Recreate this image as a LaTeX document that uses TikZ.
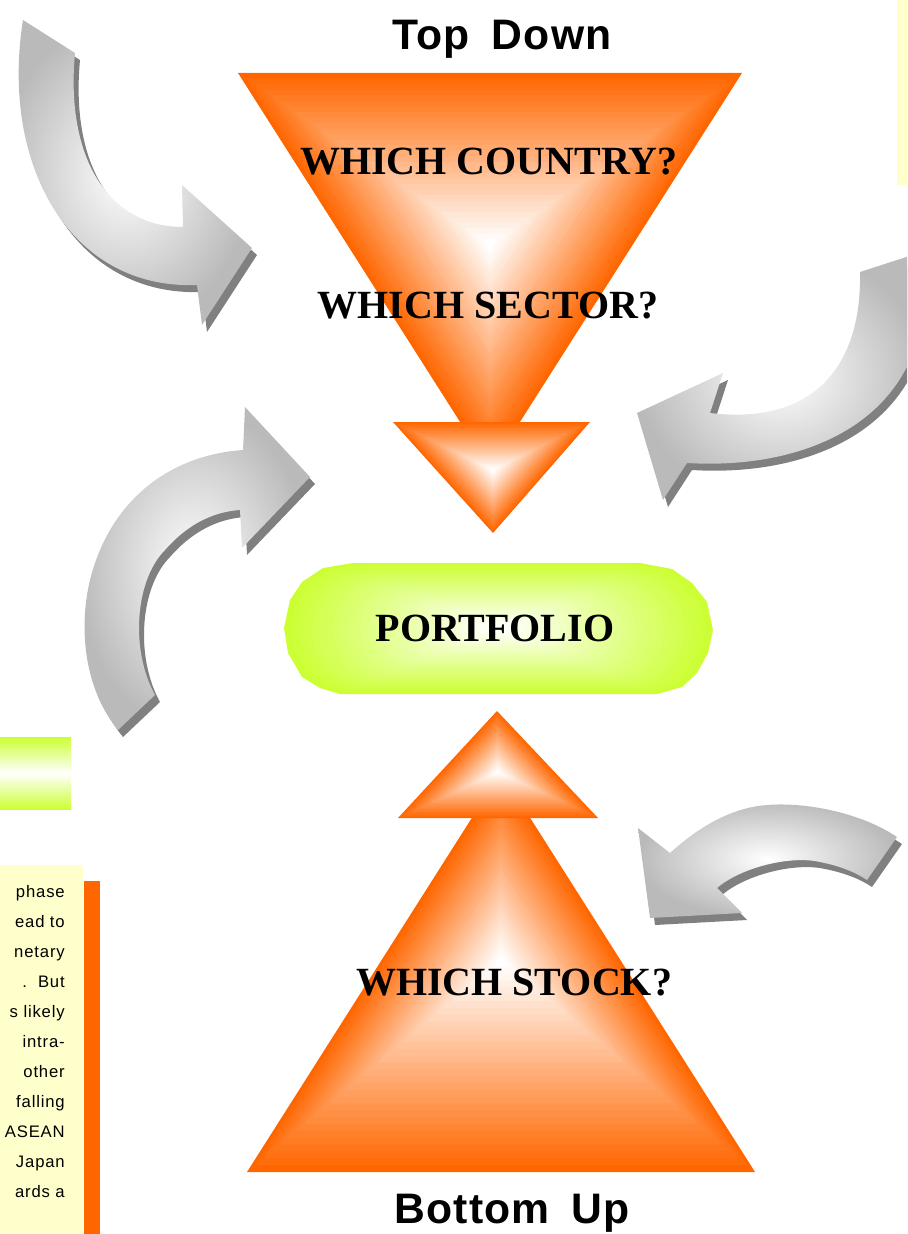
\documentclass[tikz,border=0pt]{standalone}
\usepackage{fontspec}
\setmainfont{Liberation Serif}
\newfontfamily\sansf{Liberation Sans}[LetterSpace=5]
\newfontfamily\sansl{Liberation Sans}[LetterSpace=3]
\definecolor{orng}{RGB}{255,102,0}
\definecolor{limeg}{RGB}{204,255,51}
\definecolor{ylw}{RGB}{255,255,204}
\definecolor{shd}{RGB}{128,128,128}
\newcommand{\gradfill}[4]{%
  \foreach \k in {0,...,30}{%
    \pgfmathsetmacro{\sc}{1-\k/31}%
    \pgfmathtruncatemacro{\pc}{100-\k*100/30}%
    \fill[#3!\pc!#4, scale around={\sc:#2}] #1;%
  }}
\tikzset{
  qlabel/.style={font=\bfseries\fontsize{30}{36}\selectfont, anchor=base, inner sep=0pt},
  titlelabel/.style={font=\sansl\bfseries\fontsize{32}{40}\selectfont, anchor=base, inner sep=0pt},
  boxtext/.style={font=\sansf\fontsize{12.5}{14}\selectfont, anchor=base east, inner sep=0pt},
  arrowshadow/.style={fill=shd, shift={(5,7)}},
  arrowbody/.style={inner color=white, outer color=black!27}
}
\def\triA{(238,73) -- (742,73) -- (490,469) -- cycle}
\def\triB{(393,422) -- (590,422) -- (493,533) -- cycle}
\def\triC{(247,1172) -- (755,1172) -- (501,772) -- cycle}
\def\triD{(497,711) -- (598,818) -- (398,818) -- cycle}
\def\portf{(353,563) -- (323,568) -- (302,582) -- (290,600) -- (284,628) -- (288,653) -- (302,677) -- (320,688) -- (340,694) -- (657,694) -- (682,687) -- (697,673) -- (708,653) -- (713,630) -- (707,602) -- (692,583) -- (672,569) -- (640,563) -- cycle}
\def\arrA{(23,20) -- (75,53) .. controls (65,160) and (110,227) .. (183,227) -- (182,185) -- (252,248) -- (202,325) -- (197,285) .. controls (70,290) and (0,165) .. (23,20) -- cycle}
\def\arrB{(860,272) -- (925,251) -- (925,290) .. controls (922,425) and (800,470) .. (687,463) -- (663,500) -- (637,413) -- (723,373) -- (710,413) .. controls (810,425) and (862,370) .. (860,272) -- cycle}
\def\arrC{(240,510) -- (242,548) -- (310,477) -- (245,407) -- (243,450) .. controls (170,455) and (110,500) .. (90,580) .. controls (78,630) and (85,690) .. (118,730) -- (155,695) .. controls (130,650) and (135,580) .. (165,550) .. controls (185,527) and (210,512) .. (240,510) -- cycle}
\def\arrD{(867,880) -- (897,837) .. controls (860,812) and (800,800) .. (758,806) .. controls (720,812) and (690,835) .. (670,853) -- (638,828) -- (650,918) -- (742,913) -- (717,888) .. controls (740,868) and (790,855) .. (820,862) .. controls (840,866) and (855,872) .. (867,880) -- cycle}
\begin{document}
\begin{tikzpicture}[x=0.75pt, y=-0.75pt]
\useasboundingbox (0,0) rectangle (907,1234);
\clip (0,0) rectangle (907,1234);
% side boxes
\fill[ylw] (897,0) rectangle (907,185);
\shade[top color=limeg, bottom color=limeg, middle color=white] (0,737) rectangle (71,809);
\fill[ylw] (0,865) rectangle (83,1234);
\fill[orng] (84,881) rectangle (100,1234);
\foreach \t [count=\i] in {phase, ead to, netary, .\ \ But, s likely, intra-, other, falling, ASEAN, Japan, ards a}{
  \node[boxtext] (txt\i) at (65,{867+30*\i}) {\t};
}
% curved arrows
\fill[arrowshadow] \arrA;
\shade[arrowbody] \arrA;
\fill[arrowshadow] \arrB;
\shade[arrowbody] \arrB;
\fill[arrowshadow] \arrC;
\shade[arrowbody] \arrC;
\fill[arrowshadow] \arrD;
\shade[arrowbody] \arrD;
% triangles
\gradfill{\triA}{(490,245)}{orng}{white}
\gradfill{\triB}{(493,470)}{orng}{white}
\gradfill{\triC}{(501,960)}{orng}{white}
\gradfill{\triD}{(498,772)}{orng}{white}
\coordinate (topTri) at (490,245);
\coordinate (botTri) at (501,960);
% portfolio
\gradfill{\portf}{(498,628)}{limeg}{white}
\node[qlabel] (pf) at (495,641) {PORTFOLIO};
% labels
\node[qlabel] (country) at (489,175) {WHICH COUNTRY?};
\node[qlabel] (sector) at (488,318) {WHICH SECTOR?};
\node[qlabel] (stock) at (514,995) {WHICH STOCK?};
\node[titlelabel] (td) at (502,50) {Top \hspace{0.2em}Down};
\node[titlelabel] (bu) at (512,1223) {Bottom \hspace{0.2em}Up};
\end{tikzpicture}
\end{document}
